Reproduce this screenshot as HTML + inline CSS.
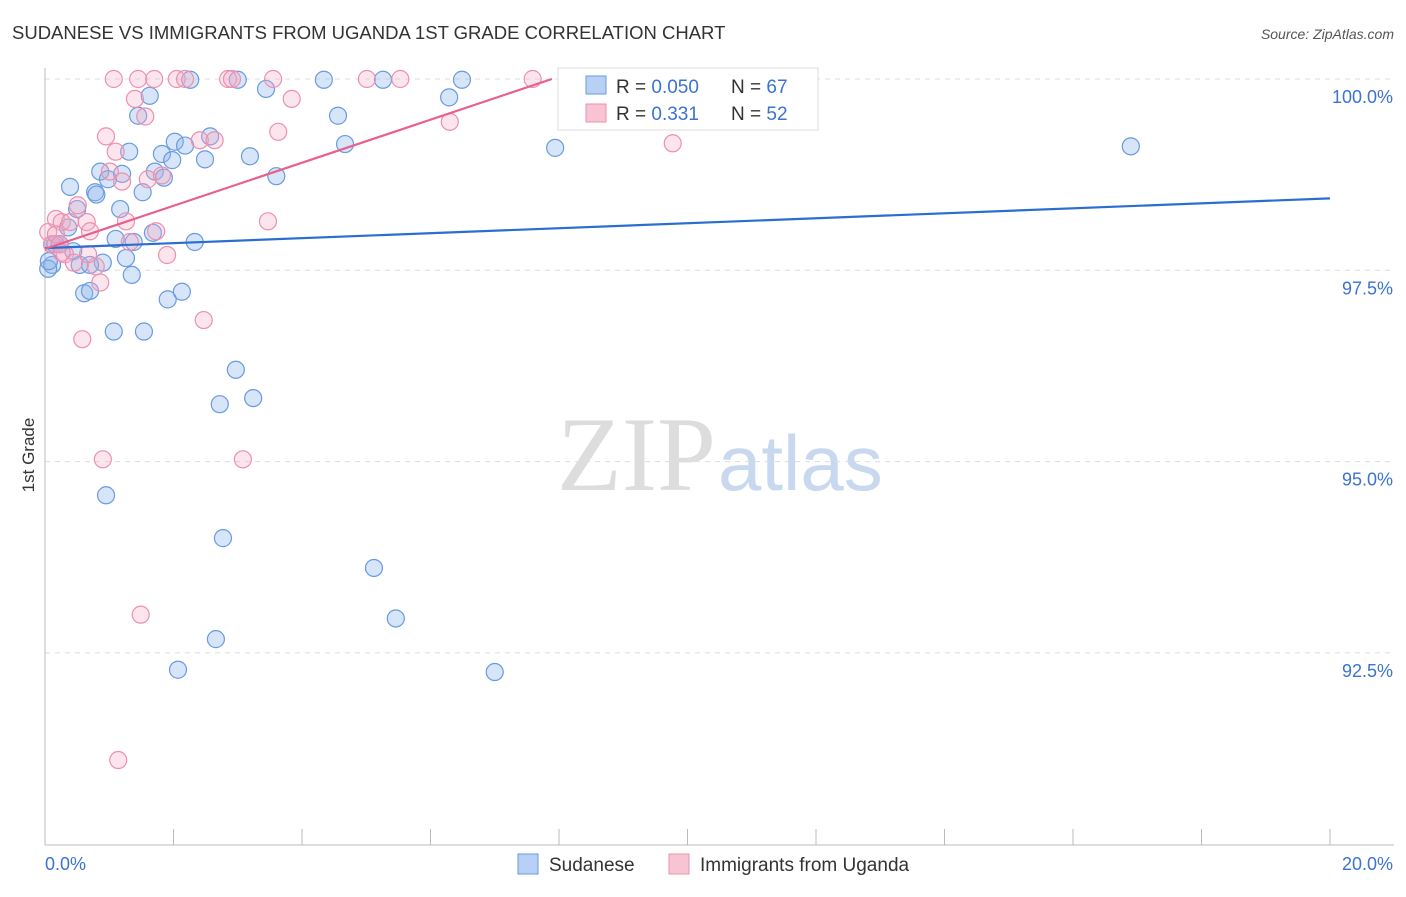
<!DOCTYPE html>
<html><head><meta charset="utf-8"><style>
body{margin:0;background:#fff;font-family:"Liberation Sans",sans-serif}
</style></head><body>
<svg id="chart" width="1406" height="892" xmlns="http://www.w3.org/2000/svg" font-family="Liberation Sans, sans-serif">
<text x="12" y="39" font-size="18.5" fill="#333">SUDANESE VS IMMIGRANTS FROM UGANDA 1ST GRADE CORRELATION CHART</text>
<text x="1394" y="39" font-size="14" fill="#555" font-style="italic" text-anchor="end">Source: ZipAtlas.com</text>
<text x="716" y="490" font-size="106" fill="#ddd" text-anchor="end" font-family="Liberation Serif, serif">ZIP</text>
<text x="718" y="490" font-size="78" fill="#c8d8ee">atlas</text>
<g id="grid"></g>
<g id="marks"></g>
<text transform="translate(34,455) rotate(-90)" font-size="17" fill="#333" text-anchor="middle">1st Grade</text>
<g>
<rect x="558" y="68" width="260" height="62" fill="#fff" stroke="#ddd"/>
<rect x="586" y="76" width="20" height="18" fill="#b8d0f4" stroke="#6a9ae0"/>
<rect x="586" y="104" width="20" height="18" fill="#f8c4d4" stroke="#ec90ae"/>
<text x="616" y="93" font-size="19" fill="#333">R = <tspan fill="#3b73d1">0.050</tspan></text>
<text x="731" y="93" font-size="19" fill="#333">N = <tspan fill="#3b73d1">67</tspan></text>
<text x="616" y="120" font-size="19" fill="#333">R =  <tspan fill="#3b73d1">0.331</tspan></text>
<text x="731" y="120" font-size="19" fill="#333">N = <tspan fill="#3b73d1">52</tspan></text>
</g>
<g>
<rect x="518" y="854" width="20" height="20" fill="#b8d0f4" stroke="#6a9ae0"/>
<text x="549" y="871" font-size="19" fill="#333">Sudanese</text>
<rect x="669" y="854" width="20" height="20" fill="#f8c4d4" stroke="#ec90ae"/>
<text x="700" y="871" font-size="19" fill="#333">Immigrants from Uganda</text>
</g>
</svg>
<script>
const yTicks=[100,97.5,95,92.5];
const yTickLabels=["100.0%","97.5%","95.0%","92.5%"];
const xEnds=["0.0%","20.0%"];
const blueX=[0.11,0.11,0.16,0.23,0.36,0.39,0.44,0.5,0.54,0.61,0.7,0.78,0.8,0.86,0.9,0.98,1.07,1.1,1.17,1.2,1.26,1.31,1.35,1.38,1.45,1.52,1.54,1.63,1.68,1.71,1.82,1.85,1.91,1.98,2.02,2.07,2.13,2.18,2.26,2.33,2.49,2.57,2.72,2.77,2.66,2.97,3.0,3.19,3.24,3.44,3.6,4.34,4.56,4.67,5.12,5.26,5.46,6.29,6.49,7.0,7.94,16.9,0.95,0.7,0.05,0.23,0.06];
const blueY=[97.57,97.84,97.84,97.84,98.06,98.59,97.75,98.3,97.57,97.2,97.23,98.52,98.49,98.79,97.6,98.69,96.7,97.91,98.3,98.76,97.66,99.05,97.44,97.87,99.52,98.52,96.7,99.78,97.99,98.79,99.02,98.71,97.12,98.94,99.18,92.28,97.22,99.13,99.99,97.87,98.95,99.25,95.75,94.0,92.68,96.2,99.99,98.99,95.83,99.87,98.73,99.99,99.52,99.15,93.61,99.99,92.95,99.76,99.99,92.25,99.1,99.12,94.56,97.57,97.52,97.84,97.62];
const pinkX=[0.05,0.11,0.17,0.26,0.31,0.39,0.45,0.51,0.58,0.65,0.7,0.79,0.86,0.95,1.01,1.07,1.1,1.2,1.26,1.32,1.4,1.45,1.56,1.6,1.7,1.73,1.82,1.9,2.05,2.18,2.41,2.47,2.64,2.85,2.91,3.08,3.47,3.55,3.63,3.84,5.01,5.53,6.3,7.59,9.77,1.49,1.14,0.9,0.17,0.23,0.26,0.67];
const pinkY=[98.0,97.84,98.17,98.13,97.71,98.13,97.6,98.35,96.6,98.13,98.01,97.55,97.34,99.25,98.79,100.0,99.05,98.66,98.14,97.87,99.74,100.0,99.51,98.69,100.0,98.01,98.74,97.7,100.0,100.0,99.2,96.85,99.2,100.0,100.0,95.03,98.14,100.0,99.31,99.74,100.0,100.0,99.44,100.0,99.16,93.0,91.1,95.03,97.97,97.84,97.73,97.71];
const blueTrend=[[0,97.79],[20,98.44]];
const pinkTrend=[[0,97.78],[7.89,100]];
const X=v=>45+v/20*1285, Y=v=>79+(100-v)/2.5*191.3;
const NS="http://www.w3.org/2000/svg";
const grid=document.getElementById('grid'), marks=document.getElementById('marks');
function mk(tag,attrs,parent){const e=document.createElementNS(NS,tag);for(const k in attrs)e.setAttribute(k,attrs[k]);parent.appendChild(e);return e;}
yTicks.forEach((t,i)=>{
 const l=mk('line',{x1:45,x2:1394,y1:Y(t),y2:Y(t),stroke:'#ddd','stroke-dasharray':'5,5'},grid);
 
 
 const tx=mk('text',{x:1393,y:Y(t)+24,'font-size':18,fill:'#3b73d1','text-anchor':'end'},grid);
 tx.textContent=yTickLabels[i];
 
 
});
const ax=mk('line',{x1:45,x2:45,y1:68,y2:845,stroke:'#bbb'},grid);


const bx=mk('line',{x1:45,x2:1394,y1:845,y2:845,stroke:'#bbb'},grid);


for(let i=0;i<=10;i++){const t=mk('line',{x1:X(i*2),x2:X(i*2),y1:829,y2:845,stroke:'#bbb'},grid);
 
 }
[[xEnds[0],45,'start'],[xEnds[1],1393,'end']].forEach(([s,x,a])=>{const t=mk('text',{x:x,y:870,'font-size':18,fill:'#3b73d1','text-anchor':a},grid);t.textContent=s;
 
 });
blueX.forEach((v,i)=>{const c=mk('circle',{cx:X(v),cy:Y(blueY[i]),r:8.5,fill:'rgba(140,180,236,0.35)',stroke:'#6a9ae0','stroke-width':1.2},marks);
 
 });
pinkX.forEach((v,i)=>{const c=mk('circle',{cx:X(v),cy:Y(pinkY[i]),r:8.5,fill:'rgba(246,170,196,0.3)',stroke:'#ec90ae','stroke-width':1.2},marks);
 
 });
const bl=mk('line',{x1:X(blueTrend[0][0]),y1:Y(blueTrend[0][1]),x2:X(blueTrend[1][0]),y2:Y(blueTrend[1][1]),stroke:'#2a6fd0','stroke-width':2.2},marks);


const pl=mk('line',{x1:X(pinkTrend[0][0]),y1:Y(pinkTrend[0][1]),x2:X(pinkTrend[1][0]),y2:Y(pinkTrend[1][1]),stroke:'#e8608e','stroke-width':2.2},marks);


</script>
</body></html>
